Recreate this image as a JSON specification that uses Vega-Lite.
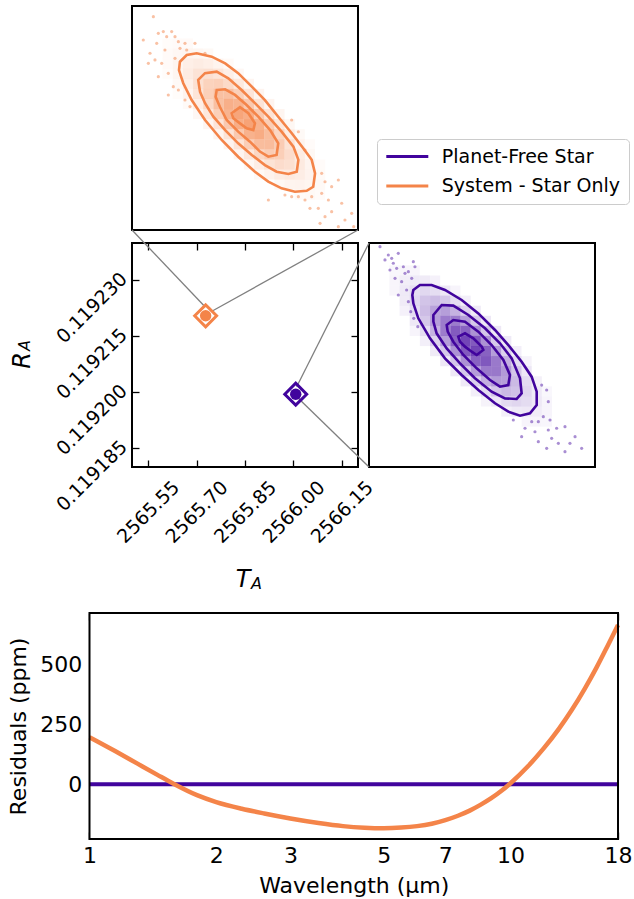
{
"$schema":"https://vega.github.io/schema/vega-lite/v6.json",
"width":634,"height":899,"padding":0,"autosize":{"type":"none"},"background":"white",
"config":{"font":"DejaVu Sans","view":{"stroke":null},"axis":{"grid":false,"domain":false,"tickColor":"black","tickWidth":1.3,"labelColor":"black","titleColor":"black","titleFontWeight":"normal","labelFlush":false,"labelOverlap":false,"labelBound":false}},
"datasets":{
"ohist":[{"k":3,"m":18,"d":0.038},{"k":4,"m":17,"d":0.086},{"k":5,"m":16,"d":0.171},{"k":6,"m":15,"d":0.304},{"k":7,"m":14,"d":0.482},{"k":8,"m":13,"d":0.683},{"k":9,"m":12,"d":0.865},{"k":10,"m":11,"d":0.979},{"k":11,"m":10,"d":0.991},{"k":12,"m":9,"d":0.897},{"k":13,"m":8,"d":0.726},{"k":14,"m":7,"d":0.525},{"k":15,"m":6,"d":0.34},{"k":16,"m":5,"d":0.196},{"k":17,"m":4,"d":0.101},{"k":18,"m":3,"d":0.046},
{"k":4,"m":18,"d":0.051},{"k":5,"m":17,"d":0.108},{"k":6,"m":16,"d":0.203},{"k":7,"m":15,"d":0.34},{"k":8,"m":14,"d":0.51},{"k":9,"m":13,"d":0.683},{"k":10,"m":12,"d":0.818},{"k":11,"m":11,"d":0.876},{"k":12,"m":10,"d":0.839},{"k":13,"m":9,"d":0.717},{"k":14,"m":8,"d":0.549},{"k":15,"m":7,"d":0.375},{"k":16,"m":6,"d":0.23},{"k":17,"m":5,"d":0.125},{"k":18,"m":4,"d":0.061},
{"k":3,"m":17,"d":0.051},{"k":4,"m":16,"d":0.108},{"k":5,"m":15,"d":0.203},{"k":6,"m":14,"d":0.34},{"k":7,"m":13,"d":0.51},{"k":8,"m":12,"d":0.683},{"k":9,"m":11,"d":0.818},{"k":10,"m":10,"d":0.876},{"k":11,"m":9,"d":0.839},{"k":12,"m":8,"d":0.717},{"k":13,"m":7,"d":0.549},{"k":14,"m":6,"d":0.375},{"k":15,"m":5,"d":0.23},{"k":16,"m":4,"d":0.125},{"k":17,"m":3,"d":0.061},
{"k":5,"m":18,"d":0.051},{"k":6,"m":17,"d":0.101},{"k":7,"m":16,"d":0.179},{"k":8,"m":15,"d":0.284},{"k":9,"m":14,"d":0.403},{"k":10,"m":13,"d":0.51},{"k":11,"m":12,"d":0.578},{"k":12,"m":11,"d":0.585},{"k":13,"m":10,"d":0.529},{"k":14,"m":9,"d":0.428},{"k":15,"m":8,"d":0.31},{"k":16,"m":7,"d":0.201},{"k":17,"m":6,"d":0.116},{"k":18,"m":5,"d":0.06},
{"k":3,"m":16,"d":0.051},{"k":4,"m":15,"d":0.101},{"k":5,"m":14,"d":0.179},{"k":6,"m":13,"d":0.284},{"k":7,"m":12,"d":0.403},{"k":8,"m":11,"d":0.51},{"k":9,"m":10,"d":0.578},{"k":10,"m":9,"d":0.585},{"k":11,"m":8,"d":0.529},{"k":12,"m":7,"d":0.428},{"k":13,"m":6,"d":0.31},{"k":14,"m":5,"d":0.201},{"k":15,"m":4,"d":0.116},{"k":16,"m":3,"d":0.06},
{"k":7,"m":17,"d":0.07},{"k":8,"m":16,"d":0.118},{"k":9,"m":15,"d":0.177},{"k":10,"m":14,"d":0.238},{"k":11,"m":13,"d":0.285},{"k":12,"m":12,"d":0.305},{"k":13,"m":11,"d":0.292},{"k":14,"m":10,"d":0.249},{"k":15,"m":9,"d":0.191},{"k":16,"m":8,"d":0.131},{"k":17,"m":7,"d":0.08},{"k":18,"m":6,"d":0.044},
{"k":3,"m":15,"d":0.038},{"k":4,"m":14,"d":0.07},{"k":5,"m":13,"d":0.118},{"k":6,"m":12,"d":0.177},{"k":7,"m":11,"d":0.238},{"k":8,"m":10,"d":0.285},{"k":9,"m":9,"d":0.305},{"k":10,"m":8,"d":0.292},{"k":11,"m":7,"d":0.249},{"k":12,"m":6,"d":0.191},{"k":13,"m":5,"d":0.131},{"k":14,"m":4,"d":0.08},
{"k":9,"m":16,"d":0.058},{"k":10,"m":15,"d":0.083},{"k":11,"m":14,"d":0.105},{"k":12,"m":13,"d":0.118},{"k":13,"m":12,"d":0.12},{"k":14,"m":11,"d":0.109},{"k":15,"m":10,"d":0.088},{"k":16,"m":9,"d":0.064},{"k":17,"m":8,"d":0.041},
{"k":4,"m":13,"d":0.037},{"k":5,"m":12,"d":0.058},{"k":6,"m":11,"d":0.083},{"k":7,"m":10,"d":0.105},{"k":8,"m":9,"d":0.118},{"k":9,"m":8,"d":0.12},{"k":10,"m":7,"d":0.109},{"k":11,"m":6,"d":0.088},{"k":12,"m":5,"d":0.064}],
"phist":[{"k":2,"m":19,"d":0.041},{"k":3,"m":18,"d":0.09},{"k":4,"m":17,"d":0.178},{"k":5,"m":16,"d":0.313},{"k":6,"m":15,"d":0.493},{"k":7,"m":14,"d":0.694},{"k":8,"m":13,"d":0.874},{"k":9,"m":12,"d":0.983},{"k":10,"m":11,"d":0.989},{"k":11,"m":10,"d":0.889},{"k":12,"m":9,"d":0.714},{"k":13,"m":8,"d":0.513},{"k":14,"m":7,"d":0.33},{"k":15,"m":6,"d":0.189},{"k":16,"m":5,"d":0.097},{"k":17,"m":4,"d":0.045},
{"k":3,"m":19,"d":0.054},{"k":4,"m":18,"d":0.112},{"k":5,"m":17,"d":0.21},{"k":6,"m":16,"d":0.349},{"k":7,"m":15,"d":0.52},{"k":8,"m":14,"d":0.693},{"k":9,"m":13,"d":0.824},{"k":10,"m":12,"d":0.877},{"k":11,"m":11,"d":0.834},{"k":12,"m":10,"d":0.709},{"k":13,"m":9,"d":0.538},{"k":14,"m":8,"d":0.366},{"k":15,"m":7,"d":0.222},{"k":16,"m":6,"d":0.12},{"k":17,"m":5,"d":0.059},
{"k":2,"m":18,"d":0.054},{"k":3,"m":17,"d":0.112},{"k":4,"m":16,"d":0.21},{"k":5,"m":15,"d":0.349},{"k":6,"m":14,"d":0.52},{"k":7,"m":13,"d":0.693},{"k":8,"m":12,"d":0.824},{"k":9,"m":11,"d":0.877},{"k":10,"m":10,"d":0.834},{"k":11,"m":9,"d":0.709},{"k":12,"m":8,"d":0.538},{"k":13,"m":7,"d":0.366},{"k":14,"m":6,"d":0.222},{"k":15,"m":5,"d":0.12},{"k":16,"m":4,"d":0.059},
{"k":4,"m":19,"d":0.053},{"k":5,"m":18,"d":0.105},{"k":6,"m":17,"d":0.185},{"k":7,"m":16,"d":0.291},{"k":8,"m":15,"d":0.409},{"k":9,"m":14,"d":0.516},{"k":10,"m":13,"d":0.58},{"k":11,"m":12,"d":0.584},{"k":12,"m":11,"d":0.525},{"k":13,"m":10,"d":0.421},{"k":14,"m":9,"d":0.303},{"k":15,"m":8,"d":0.195},{"k":16,"m":7,"d":0.112},{"k":17,"m":6,"d":0.057},
{"k":2,"m":17,"d":0.053},{"k":3,"m":16,"d":0.105},{"k":4,"m":15,"d":0.185},{"k":5,"m":14,"d":0.291},{"k":6,"m":13,"d":0.409},{"k":7,"m":12,"d":0.516},{"k":8,"m":11,"d":0.58},{"k":9,"m":10,"d":0.584},{"k":10,"m":9,"d":0.525},{"k":11,"m":8,"d":0.421},{"k":12,"m":7,"d":0.303},{"k":13,"m":6,"d":0.195},{"k":14,"m":5,"d":0.112},{"k":15,"m":4,"d":0.057},
{"k":6,"m":18,"d":0.073},{"k":7,"m":17,"d":0.121},{"k":8,"m":16,"d":0.181},{"k":9,"m":15,"d":0.241},{"k":10,"m":14,"d":0.287},{"k":11,"m":13,"d":0.305},{"k":12,"m":12,"d":0.29},{"k":13,"m":11,"d":0.246},{"k":14,"m":10,"d":0.187},{"k":15,"m":9,"d":0.127},{"k":16,"m":8,"d":0.077},{"k":17,"m":7,"d":0.042},
{"k":3,"m":15,"d":0.073},{"k":4,"m":14,"d":0.121},{"k":5,"m":13,"d":0.181},{"k":6,"m":12,"d":0.241},{"k":7,"m":11,"d":0.287},{"k":8,"m":10,"d":0.305},{"k":9,"m":9,"d":0.29},{"k":10,"m":8,"d":0.246},{"k":11,"m":7,"d":0.187},{"k":12,"m":6,"d":0.127},{"k":13,"m":5,"d":0.077},
{"k":8,"m":17,"d":0.06},{"k":9,"m":16,"d":0.084},{"k":10,"m":15,"d":0.106},{"k":11,"m":14,"d":0.119},{"k":12,"m":13,"d":0.12},{"k":13,"m":12,"d":0.108},{"k":14,"m":11,"d":0.086},{"k":15,"m":10,"d":0.062},
{"k":4,"m":13,"d":0.06},{"k":5,"m":12,"d":0.084},{"k":6,"m":11,"d":0.106},{"k":7,"m":10,"d":0.119},{"k":8,"m":9,"d":0.12},{"k":9,"m":8,"d":0.108},{"k":10,"m":7,"d":0.086},{"k":11,"m":6,"d":0.062}],
"odots":[{"k":1.6,"m":20.66},{"k":2.09,"m":19.01},{"k":2.58,"m":19.18},{"k":2.91,"m":18.68},{"k":3.4,"m":19.18},{"k":3.73,"m":18.68},{"k":4.06,"m":18.18},{"k":4.71,"m":18.02},{"k":5.69,"m":18.02},{"k":6.68,"m":17.03},{"k":1.27,"m":17.03},{"k":1.76,"m":16.37},{"k":1.11,"m":16.03},{"k":2.42,"m":16.03},{"k":3.07,"m":15.04},{"k":2.09,"m":14.71},{"k":3.56,"m":13.72},{"k":4.06,"m":13.39},{"k":3.07,"m":12.89},{"k":4.71,"m":12.4},{"k":5.2,"m":11.74},{"k":0.61,"m":18.35},{"k":1.93,"m":18.02},{"k":4.22,"m":17.52},{"k":4.88,"m":17.36},{"k":2.74,"m":17.36},{"k":3.73,"m":16.53},{"k":15.2,"m":10.41},{"k":15.86,"m":9.25},{"k":16.51,"m":7.44},{"k":18.15,"m":5.12},{"k":18.48,"m":4.29},{"k":19.13,"m":3.8},{"k":19.79,"m":4.46},{"k":18.15,"m":3.14},{"k":17.17,"m":2.81},{"k":16.51,"m":2.48},{"k":18.81,"m":2.48},{"k":20.12,"m":2.15},{"k":17.82,"m":1.65},{"k":19.13,"m":1.32},{"k":18.48,"m":0.82},{"k":20.44,"m":0.49},{"k":21.1,"m":1.15},{"k":21.3,"m":-0.17},{"k":17.99,"m":0.16},{"k":15.86,"m":2.81},{"k":15.2,"m":2.81},{"k":14.54,"m":2.97},{"k":12.91,"m":2.48},{"k":17.0,"m":1.65},{"k":19.79,"m":-0.17}],
"pdots":[{"k":0.58,"m":21.36},{"k":1.4,"m":20.53},{"k":1.07,"m":20.04},{"k":1.73,"m":20.2},{"k":2.38,"m":20.7},{"k":1.56,"m":19.04},{"k":2.22,"m":19.21},{"k":2.88,"m":19.37},{"k":3.37,"m":18.88},{"k":3.86,"m":19.87},{"k":3.7,"m":18.22},{"k":2.71,"m":17.89},{"k":3.2,"m":17.06},{"k":2.38,"m":16.56},{"k":3.37,"m":15.9},{"k":3.6,"m":14.91},{"k":3.9,"m":14.25},{"k":4.3,"m":13.42},{"k":3.04,"m":18.71},{"k":2.06,"m":18.22},{"k":4.02,"m":19.37},{"k":1.89,"m":19.71},{"k":16.48,"m":7.63},{"k":16.97,"m":7.14},{"k":17.13,"m":5.98},{"k":16.64,"m":4.49},{"k":17.3,"m":4.16},{"k":16.15,"m":4.0},{"k":15.5,"m":4.0},{"k":14.84,"m":3.34},{"k":15.82,"m":3.0},{"k":17.13,"m":3.17},{"k":17.95,"m":3.34},{"k":18.77,"m":3.5},{"k":19.76,"m":2.51},{"k":17.46,"m":2.34},{"k":18.12,"m":1.85},{"k":19.26,"m":1.85},{"k":20.41,"m":1.35},{"k":18.77,"m":1.02},{"k":14.51,"m":2.51},{"k":13.69,"m":4.16},{"k":16.15,"m":2.01},{"k":16.97,"m":1.35}],
"ocont":[{"c":1,"i":0,"k":4.21,"m":16.19},{"c":1,"i":1,"k":4.88,"m":16.86},{"c":1,"i":2,"k":5.86,"m":17.03},{"c":1,"i":3,"k":7.34,"m":16.7},{"c":1,"i":4,"k":8.66,"m":16.03},{"c":1,"i":5,"k":9.94,"m":15.06},{"c":1,"i":6,"k":11.28,"m":13.72},{"c":1,"i":7,"k":12.57,"m":12.39},{"c":1,"i":8,"k":13.88,"m":10.74},{"c":1,"i":9,"k":15.21,"m":9.1},{"c":1,"i":10,"k":16.34,"m":7.61},{"c":1,"i":11,"k":17.17,"m":6.46},{"c":1,"i":12,"k":17.5,"m":5.12},{"c":1,"i":13,"k":17.32,"m":3.79},{"c":1,"i":14,"k":16.68,"m":3.39},{"c":1,"i":15,"k":15.52,"m":3.3},{"c":1,"i":16,"k":14.21,"m":3.63},{"c":1,"i":17,"k":12.9,"m":4.3},{"c":1,"i":18,"k":11.59,"m":5.28},{"c":1,"i":19,"k":9.94,"m":6.77},{"c":1,"i":20,"k":8.32,"m":8.43},{"c":1,"i":21,"k":6.68,"m":10.41},{"c":1,"i":22,"k":5.37,"m":12.39},{"c":1,"i":23,"k":4.54,"m":14.06},{"c":1,"i":24,"k":4.12,"m":15.37},
{"c":2,"i":0,"k":6.01,"m":14.39},{"c":2,"i":1,"k":6.68,"m":15.06},{"c":2,"i":2,"k":7.83,"m":15.21},{"c":2,"i":3,"k":8.97,"m":14.54},{"c":2,"i":4,"k":10.28,"m":13.39},{"c":2,"i":5,"k":11.59,"m":12.08},{"c":2,"i":6,"k":12.9,"m":10.74},{"c":2,"i":7,"k":14.21,"m":9.26},{"c":2,"i":8,"k":15.37,"m":7.77},{"c":2,"i":9,"k":15.86,"m":6.46},{"c":2,"i":10,"k":15.7,"m":5.28},{"c":2,"i":11,"k":14.88,"m":5.06},{"c":2,"i":12,"k":13.72,"m":5.28},{"c":2,"i":13,"k":12.57,"m":5.94},{"c":2,"i":14,"k":11.28,"m":6.94},{"c":2,"i":15,"k":9.94,"m":8.1},{"c":2,"i":16,"k":8.66,"m":9.41},{"c":2,"i":17,"k":7.5,"m":10.74},{"c":2,"i":18,"k":6.68,"m":12.08},{"c":2,"i":19,"k":6.19,"m":13.21},
{"c":3,"i":0,"k":7.83,"m":13.39},{"c":3,"i":1,"k":8.66,"m":13.46},{"c":3,"i":2,"k":9.63,"m":12.9},{"c":3,"i":3,"k":10.77,"m":11.9},{"c":3,"i":4,"k":11.92,"m":10.74},{"c":3,"i":5,"k":13.08,"m":9.41},{"c":3,"i":6,"k":13.88,"m":8.1},{"c":3,"i":7,"k":13.72,"m":6.94},{"c":3,"i":8,"k":12.9,"m":6.77},{"c":3,"i":9,"k":12.08,"m":7.28},{"c":3,"i":10,"k":11.1,"m":8.26},{"c":3,"i":11,"k":9.94,"m":9.26},{"c":3,"i":12,"k":8.81,"m":10.41},{"c":3,"i":13,"k":8.14,"m":11.72},{"c":3,"i":14,"k":7.72,"m":12.72},
{"c":4,"i":0,"k":9.3,"m":11.08},{"c":4,"i":1,"k":10.12,"m":11.68},{"c":4,"i":2,"k":10.94,"m":11.08},{"c":4,"i":3,"k":11.59,"m":10.08},{"c":4,"i":4,"k":11.43,"m":9.41},{"c":4,"i":5,"k":10.77,"m":9.59},{"c":4,"i":6,"k":10.12,"m":10.08},{"c":4,"i":7,"k":9.46,"m":10.59}],
"pcont":[{"c":1,"i":0,"k":3.86,"m":17.06},{"c":1,"i":1,"k":4.51,"m":17.56},{"c":1,"i":2,"k":5.66,"m":17.56},{"c":1,"i":3,"k":6.97,"m":17.06},{"c":1,"i":4,"k":8.61,"m":16.07},{"c":1,"i":5,"k":10.25,"m":14.74},{"c":1,"i":6,"k":11.89,"m":13.09},{"c":1,"i":7,"k":13.2,"m":11.6},{"c":1,"i":8,"k":14.51,"m":9.95},{"c":1,"i":9,"k":15.49,"m":8.46},{"c":1,"i":10,"k":15.99,"m":6.97},{"c":1,"i":11,"k":15.99,"m":5.65},{"c":1,"i":12,"k":15.33,"m":4.82},{"c":1,"i":13,"k":14.35,"m":4.59},{"c":1,"i":14,"k":13.2,"m":4.99},{"c":1,"i":15,"k":11.89,"m":5.82},{"c":1,"i":16,"k":10.25,"m":7.14},{"c":1,"i":17,"k":8.61,"m":8.63},{"c":1,"i":18,"k":6.97,"m":10.28},{"c":1,"i":19,"k":5.5,"m":12.26},{"c":1,"i":20,"k":4.35,"m":14.25},{"c":1,"i":21,"k":3.86,"m":15.74},{"c":1,"i":22,"k":3.76,"m":16.56},
{"c":2,"i":0,"k":5.83,"m":14.58},{"c":2,"i":1,"k":6.65,"m":15.57},{"c":2,"i":2,"k":7.79,"m":15.51},{"c":2,"i":3,"k":9.27,"m":14.58},{"c":2,"i":4,"k":10.91,"m":13.26},{"c":2,"i":5,"k":12.38,"m":11.77},{"c":2,"i":6,"k":13.53,"m":10.28},{"c":2,"i":7,"k":14.35,"m":8.3},{"c":2,"i":8,"k":14.51,"m":6.81},{"c":2,"i":9,"k":14.02,"m":6.25},{"c":2,"i":10,"k":12.87,"m":6.31},{"c":2,"i":11,"k":11.56,"m":6.97},{"c":2,"i":12,"k":9.92,"m":8.3},{"c":2,"i":13,"k":8.45,"m":9.78},{"c":2,"i":14,"k":7.14,"m":11.27},{"c":2,"i":15,"k":6.15,"m":12.76},{"c":2,"i":16,"k":5.83,"m":13.92},
{"c":3,"i":0,"k":7.14,"m":13.59},{"c":3,"i":1,"k":7.79,"m":14.08},{"c":3,"i":2,"k":8.94,"m":13.92},{"c":3,"i":3,"k":10.25,"m":12.93},{"c":3,"i":4,"k":11.56,"m":11.6},{"c":3,"i":5,"k":12.71,"m":10.12},{"c":3,"i":6,"k":13.36,"m":8.63},{"c":3,"i":7,"k":13.2,"m":7.63},{"c":3,"i":8,"k":12.38,"m":7.47},{"c":3,"i":9,"k":11.4,"m":8.13},{"c":3,"i":10,"k":10.09,"m":9.29},{"c":3,"i":11,"k":8.78,"m":10.61},{"c":3,"i":12,"k":7.79,"m":11.93},{"c":3,"i":13,"k":7.24,"m":12.93},
{"c":4,"i":0,"k":8.28,"m":12.43},{"c":4,"i":1,"k":8.94,"m":12.76},{"c":4,"i":2,"k":9.76,"m":12.26},{"c":4,"i":3,"k":10.58,"m":11.44},{"c":4,"i":4,"k":10.74,"m":11.11},{"c":4,"i":5,"k":10.09,"m":10.61},{"c":4,"i":6,"k":9.6,"m":10.94},{"c":4,"i":7,"k":8.94,"m":11.44},{"c":4,"i":8,"k":8.45,"m":11.93}],
"mpts":[{"s":"System - Star Only","x":2565.7281,"y":0.1192205},{"s":"Planet-Free Star","x":2566.0071,"y":0.1191995}],
"conn":[{"x1":2565.5,"y1":0.11924348,"x2":2565.7261,"y2":0.11922294},{"x1":2565.7487,"y1":0.11922179,"x2":2566.2,"y2":0.11924348},{"x1":2566.0101,"y1":0.11920151,"x2":2566.2341,"y2":0.11924},{"x1":2566.0151,"y1":0.1191984,"x2":2566.2341,"y2":0.11918}],
"resid":[{"s":"Planet-Free Star","lam":1,"r":0},{"s":"Planet-Free Star","lam":18,"r":0},
{"s":"System - Star Only","lam":1,"r":197},{"s":"System - Star Only","lam":1.15,"r":139},{"s":"System - Star Only","lam":1.3,"r":86},{"s":"System - Star Only","lam":1.45,"r":39},{"s":"System - Star Only","lam":1.583,"r":2},{"s":"System - Star Only","lam":1.8,"r":-46},{"s":"System - Star Only","lam":2,"r":-75},{"s":"System - Star Only","lam":2.3,"r":-103},{"s":"System - Star Only","lam":2.6,"r":-123},{"s":"System - Star Only","lam":3,"r":-144},{"s":"System - Star Only","lam":3.5,"r":-163},{"s":"System - Star Only","lam":4,"r":-176},{"s":"System - Star Only","lam":4.5,"r":-182.5},{"s":"System - Star Only","lam":5,"r":-184.6},{"s":"System - Star Only","lam":5.5,"r":-182},{"s":"System - Star Only","lam":6,"r":-176},{"s":"System - Star Only","lam":6.5,"r":-166},{"s":"System - Star Only","lam":7,"r":-151},{"s":"System - Star Only","lam":7.5,"r":-132.5},{"s":"System - Star Only","lam":8,"r":-111},{"s":"System - Star Only","lam":8.5,"r":-86},{"s":"System - Star Only","lam":9,"r":-59},{"s":"System - Star Only","lam":9.5,"r":-29},{"s":"System - Star Only","lam":10,"r":4},{"s":"System - Star Only","lam":11,"r":75},{"s":"System - Star Only","lam":12,"r":151},{"s":"System - Star Only","lam":13,"r":230},{"s":"System - Star Only","lam":14,"r":313},{"s":"System - Star Only","lam":15,"r":400},{"s":"System - Star Only","lam":16,"r":489},{"s":"System - Star Only","lam":17,"r":580},{"s":"System - Star Only","lam":18,"r":668}]
},
"resolve":{"scale":{"x":"independent","y":"independent"},"axis":{"x":"independent","y":"independent"}},
"layer":[
{"layer":[
 {"data":{"name":"ohist"},"mark":{"type":"square","size":103,"color":"#f48449","strokeWidth":0},
  "encoding":{"x":{"field":"k","type":"quantitative","scale":{"domain":[-13.479,48.861],"nice":false,"zero":false},"axis":null},
   "y":{"field":"m","type":"quantitative","scale":{"domain":[-66.869,22.317],"nice":false,"zero":false},"axis":null},
   "opacity":{"field":"d","type":"quantitative","scale":{"domain":[0,1],"range":[0,0.75]},"legend":null}}},
 {"data":{"name":"odots"},"mark":{"type":"circle","size":10,"color":"#f48449","opacity":0.5},
  "encoding":{"x":{"field":"k","type":"quantitative","axis":null},"y":{"field":"m","type":"quantitative","axis":null}}},
 {"data":{"name":"ocont"},"mark":{"type":"line","color":"#f48449","strokeWidth":2.6,"interpolate":"linear-closed"},
  "encoding":{"x":{"field":"k","type":"quantitative","axis":null},"y":{"field":"m","type":"quantitative","axis":null},"detail":{"field":"c","type":"nominal"},"order":{"field":"i","type":"quantitative"}}},
 {"data":{"values":[{}]},"mark":{"type":"rect","filled":false,"color":"black","strokeWidth":2},
  "encoding":{"x":{"datum":-0.5,"type":"quantitative","axis":null},"x2":{"datum":21.722},"y":{"datum":-0.5,"type":"quantitative","axis":null},"y2":{"datum":21.722}}}
]},
{"layer":[
 {"data":{"name":"phist"},"mark":{"type":"square","size":103,"color":"#41049d","strokeWidth":0},
  "encoding":{"x":{"field":"k","type":"quantitative","scale":{"domain":[-36.783,25.557],"nice":false,"zero":false},"axis":null},
   "y":{"field":"m","type":"quantitative","scale":{"domain":[-43.357,45.829],"nice":false,"zero":false},"axis":null},
   "opacity":{"field":"d","type":"quantitative","legend":null}}},
 {"data":{"name":"pdots"},"mark":{"type":"circle","size":10,"color":"#41049d","opacity":0.45},
  "encoding":{"x":{"field":"k","type":"quantitative","axis":null},"y":{"field":"m","type":"quantitative","axis":null}}},
 {"data":{"name":"pcont"},"mark":{"type":"line","color":"#41049d","strokeWidth":2.6,"interpolate":"linear-closed"},
  "encoding":{"x":{"field":"k","type":"quantitative","axis":null},"y":{"field":"m","type":"quantitative","axis":null},"detail":{"field":"c","type":"nominal"},"order":{"field":"i","type":"quantitative"}}},
 {"data":{"values":[{}]},"mark":{"type":"rect","filled":false,"color":"black","strokeWidth":2},
  "encoding":{"x":{"datum":-0.5,"type":"quantitative","axis":null},"x2":{"datum":21.722},"y":{"datum":-0.5,"type":"quantitative","axis":null},"y2":{"datum":21.722}}}
]},
{"resolve":{"axis":{"x":"independent","y":"independent"}},"layer":[
 {"data":{"values":[{}]},"mark":{"type":"rect","filled":false,"color":"black","strokeWidth":2},
  "encoding":{"x":{"datum":2565.5,"type":"quantitative","scale":{"domain":[2565.09115,2567.05487],"nice":false,"zero":false},"axis":null},"x2":{"datum":2566.2},
   "y":{"datum":0.11918,"type":"quantitative","scale":{"domain":[0.1190642857,0.1193050893],"nice":false,"zero":false},"axis":null},"y2":{"datum":0.11924}}},
 {"data":{"name":"conn"},"mark":{"type":"rule","color":"#808080","strokeWidth":1.3},
  "encoding":{"x":{"field":"x1","type":"quantitative","axis":{"orient":"bottom","offset":-432,"values":[2565.55,2565.7,2565.85,2566.0,2566.15],"format":".2f","tickSize":-7,"labelAngle":-45,"labelAlign":"center","labelBaseline":"middle","labelPadding":51.7,"labelFontSize":19,"title":"T","titleFontStyle":"italic","titleFontSize":24,"titleX":242.5,"titleY":119.5,"titleAlign":"center","titleBaseline":"alphabetic","titleAngle":0}},
   "x2":{"field":"x2"},
   "y":{"field":"y1","type":"quantitative","axis":{"orient":"left","offset":-132,"values":[0.119185,0.1192,0.119215,0.11923],"format":".6f","tickSize":-7,"labelAngle":-45,"labelAlign":"right","labelBaseline":"middle","labelPadding":15.5,"labelOffset":-5,"labelFontSize":19,"title":"R","titleFontStyle":"italic","titleFontSize":24,"titleX":-103,"titleY":360,"titleAngle":-90,"titleAlign":"center","titleBaseline":"alphabetic"}},
   "y2":{"field":"y2"}}},
 {"data":{"name":"mpts"},"transform":[{"filter":"datum.s == 'System - Star Only'"}],"mark":{"type":"point","shape":"circle","filled":true,"size":130,"opacity":1,"color":"#f48449"},
  "encoding":{"x":{"field":"x","type":"quantitative","axis":null},"y":{"field":"y","type":"quantitative","axis":null}}},
 {"data":{"name":"mpts"},"transform":[{"filter":"datum.s == 'Planet-Free Star'"}],"mark":{"type":"point","shape":"circle","filled":true,"size":130,"opacity":1,"color":"#41049d"},
  "encoding":{"x":{"field":"x","type":"quantitative","axis":null},"y":{"field":"y","type":"quantitative","axis":null}}},
 {"data":{"name":"mpts"},"transform":[{"filter":"datum.s == 'Planet-Free Star'"}],"mark":{"type":"point","shape":"diamond","filled":false,"size":480,"strokeWidth":3,"opacity":1,"color":"#41049d"},
  "encoding":{"x":{"field":"x","type":"quantitative","axis":null},"y":{"field":"y","type":"quantitative","axis":null}}},
 {"data":{"name":"mpts"},"transform":[{"filter":"datum.s == 'System - Star Only'"}],"mark":{"type":"point","shape":"diamond","filled":false,"size":480,"strokeWidth":3,"opacity":1,"color":"#f48449"},
  "encoding":{"x":{"field":"x","type":"quantitative","axis":{"orient":"top","offset":-243,"values":[2565.55,2565.7,2565.85,2566.0,2566.15],"tickSize":-7,"labels":false,"title":"A","titleFontStyle":"italic","titleFontSize":16,"titleX":256,"titleY":345.5,"titleAlign":"center","titleBaseline":"alphabetic","titleAngle":0}},
   "y":{"field":"y","type":"quantitative","axis":{"orient":"right","offset":-276,"values":[0.119185,0.1192,0.119215,0.11923],"tickSize":-7,"labels":false,"title":"A","titleFontStyle":"italic","titleFontSize":16,"titleX":-329,"titleY":345,"titleAngle":-90,"titleAlign":"center","titleBaseline":"alphabetic"}}}}
]},
{"resolve":{"axis":{"x":"independent","y":"independent"}},"layer":[
 {"data":{"values":[{}]},"mark":{"type":"rect","color":"white"},
  "encoding":{"x":{"datum":1,"type":"quantitative","scale":{"type":"log","domain":[0.61296,19.645],"nice":false},"axis":{"orient":"top","offset":-613,"values":[4,6,8,9,11,12,13,14,15,16,17],"tickSize":-4,"labels":false,"title":null}},"x2":{"datum":18},
   "y":{"datum":-230,"type":"quantitative","scale":{"domain":[-481.7,3289.3],"nice":false,"zero":false},"axis":null},"y2":{"datum":718}}},
 {"data":{"name":"resid"},"transform":[{"filter":"datum.s == 'Planet-Free Star'"}],"mark":{"type":"line","strokeWidth":4},
  "encoding":{"x":{"field":"lam","type":"quantitative","axis":{"orient":"top","offset":-613,"values":[1,2,3,5,7,10,18],"tickSize":-7,"labels":false,"title":null}},
   "y":{"field":"r","type":"quantitative","axis":{"orient":"right","offset":-16,"values":[0,250,500],"tickSize":-7,"labels":false,"title":null}},
   "color":{"field":"s","type":"nominal","scale":{"domain":["Planet-Free Star","System - Star Only"],"range":["#41049d","#f48449"]},
    "legend":{"orient":"none","legendX":377,"legendY":139,"title":null,"fillColor":"white","strokeColor":"#cccccc","cornerRadius":4,"padding":8,"labelFontSize":19,"labelFont":"DejaVu Sans","labelColor":"black","labelLimit":400,"symbolType":"M-3,0L3,0","symbolSize":196,"symbolStrokeWidth":3,"symbolOffset":12.8,"labelOffset":25,"rowPadding":9.5}}}},
 {"data":{"name":"resid"},"transform":[{"filter":"datum.s == 'System - Star Only'"}],"mark":{"type":"line","strokeWidth":4.5,"interpolate":"monotone"},
  "encoding":{"x":{"field":"lam","type":"quantitative","axis":{"orient":"bottom","offset":-60,"values":[4,6,8,9,11,12,13,14,15,16,17],"tickSize":-4,"labels":false,"title":null}},
   "y":{"field":"r","type":"quantitative","axis":null},
   "color":{"field":"s","type":"nominal"}}},
 {"data":{"values":[{}]},"mark":{"type":"rect","filled":false,"color":"black","strokeWidth":2},
  "encoding":{"x":{"datum":1,"type":"quantitative","axis":{"orient":"bottom","offset":-60,"values":[1,2,3,5,7,10,18],"format":"~g","tickSize":-7,"labelFontSize":22,"labelPadding":13.4,"labelAlign":"center","labelBaseline":"top","title":"Wavelength (μm)","titleFontSize":22,"titleX":353.75,"titleY":53.7,"titleAlign":"center","titleBaseline":"alphabetic"}},"x2":{"datum":18},
   "y":{"datum":-230,"type":"quantitative","axis":{"orient":"left","offset":-89.5,"values":[0,250,500],"format":"d","tickSize":-7,"labelFontSize":22,"labelPadding":14.8,"labelAlign":"right","labelBaseline":"middle","title":"Residuals (ppm)","titleFontSize":22,"titleX":-64,"titleY":726,"titleAngle":-90,"titleAlign":"center","titleBaseline":"alphabetic"}},"y2":{"datum":718}}}
]}
]
}
